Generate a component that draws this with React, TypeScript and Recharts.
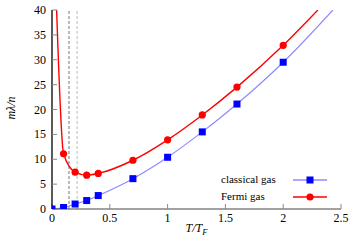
import { ComposedChart, Line, Scatter, XAxis, YAxis, ReferenceLine, Label } from "recharts";

// T/T_F positions of the sampled points
const tPoints = [0, 0.1, 0.2, 0.3, 0.4, 0.7, 1.0, 1.3, 1.6, 2.0];
const classicalValues = [0, 0.3, 1.0, 1.7, 2.7, 6.1, 10.4, 15.5, 21.1, 29.5];

const fermiT = [0.1, 0.2, 0.3, 0.4, 0.7, 1.0, 1.3, 1.6, 2.0];
const fermiValues = [11.1, 7.4, 6.8, 7.15, 9.8, 13.9, 18.9, 24.5, 32.9];

// where the curves leave the frame at the top
const classicalCurveT = [...tPoints, 2.43];
const classicalCurveValues = [...classicalValues, 40];
const fermiCurveT = [0.04, ...fermiT, 2.3];
const fermiCurveValues = [40, ...fermiValues, 40];

const xTicks = [0, 0.5, 1, 1.5, 2, 2.5];
const yTicks = [0, 5, 10, 15, 20, 25, 30, 35, 40];
const markerLines = [0.147, 0.217];

const legendItems = [
  { label: "classical gas", color: "#0000ff", line: "#8c8cff", shape: "square" },
  { label: "Fermi gas", color: "#ff0000", line: "#ff0000", shape: "circle" },
];

const toData = (xs: number[], ys: number[]) => xs.map((t, i) => ({ t, v: ys[i] }));

const classicalPoints = toData(tPoints, classicalValues);
const fermiPoints = toData(fermiT, fermiValues);
const classicalCurve = toData(classicalCurveT, classicalCurveValues);
const fermiCurve = toData(fermiCurveT, fermiCurveValues);

const FONT = "Liberation Serif";

const Square = (props: any) => {
  const { cx, cy } = props;
  return <rect x={cx - 3.5} y={cy - 3.5} width={7} height={7} fill="#0000ff" />;
};

const Dot = (props: any) => {
  const { cx, cy } = props;
  return <circle cx={cx} cy={cy} r={3.6} fill="#ff0000" />;
};

const XTick = (props: any) => {
  const { x, y, payload } = props;
  return (
    <text x={x} y={y + 9} fontFamily={FONT} fontSize={12} textAnchor="middle" fill="#000" style={{ fontFamily: FONT }}>
      {String(payload.value)}
    </text>
  );
};

const YTick = (props: any) => {
  const { x, y, payload } = props;
  return (
    <text x={x} y={y + 4} fontFamily={FONT} fontSize={12} textAnchor="end" fill="#000" style={{ fontFamily: FONT }}>
      {String(payload.value)}
    </text>
  );
};

const XLabel = (props: any) => {
  const vb = props.viewBox;
  return (
    <text x={vb.x + vb.width / 2} y={232} fontFamily={FONT} fontSize={12} fontStyle="italic" textAnchor="middle" fill="#000">
      T/T<tspan fontSize={8.5} dy={3}>F</tspan>
    </text>
  );
};

const YLabel = () => {
  return (
    <text x={15} y={108} transform="rotate(-90 15 108)" fontFamily={FONT} fontSize={12} fontStyle="italic" textAnchor="middle" fill="#000">
      mλ/n
    </text>
  );
};

function KeyBox() {
  return (
    <div style={{ position: "absolute", left: 221, top: 171, fontFamily: FONT, fontSize: 11, lineHeight: "17px" }}>
      {legendItems.map((item) => (
        <div key={item.label} style={{ display: "flex", alignItems: "center", height: 17 }}>
          <span style={{ width: 72 }}>{item.label}</span>
          <svg width={36} height={10}>
            <line x1={0} y1={5} x2={34} y2={5} stroke={item.line} strokeWidth={1.5} />
            {item.shape === "square" ? (
              <rect x={13.5} y={1.5} width={7} height={7} fill={item.color} />
            ) : (
              <circle cx={17} cy={5} r={3.6} fill={item.color} />
            )}
          </svg>
        </div>
      ))}
    </div>
  );
}

export default function App() {
  return (
    <div style={{ position: "absolute", left: 0, top: 0, width: 354, height: 250, fontFamily: FONT }}>
      <ComposedChart width={354} height={250} margin={{ top: 10, right: 13, left: 0, bottom: 0 }} style={{ fontFamily: FONT }}>
        <XAxis
          dataKey="t"
          type="number"
          domain={[0, 2.5]}
          ticks={xTicks}
          allowDataOverflow
          height={41}
          tickSize={-5}
          tickMargin={9}
          tick={<XTick />}
          axisLine={{ stroke: "#444" }}
          tickLine={{ stroke: "#888" }}
        >
          <Label content={<XLabel />} />
        </XAxis>
        <XAxis
          xAxisId="top"
          orientation="top"
          type="number"
          domain={[0, 2.5]}
          ticks={xTicks}
          allowDataOverflow
          height={0}
          tickSize={-5}
          tickFormatter={() => ""}
          axisLine={{ stroke: "#666" }}
          tickLine={{ stroke: "#888" }}
        />
        <YAxis
          type="number"
          domain={[0, 40]}
          ticks={yTicks}
          allowDataOverflow
          width={52}
          tickSize={-5}
          tickMargin={11}
          tick={<YTick />}
          axisLine={{ stroke: "#000", strokeWidth: 1.3 }}
          tickLine={{ stroke: "#888" }}
        >
          <Label content={<YLabel />} />
        </YAxis>
        <YAxis
          yAxisId="right"
          orientation="right"
          type="number"
          domain={[0, 40]}
          ticks={yTicks}
          allowDataOverflow
          width={0}
          tickSize={-5}
          tickFormatter={() => ""}
          axisLine={{ stroke: "#666" }}
          tickLine={{ stroke: "#888" }}
        />
        <ReferenceLine x={markerLines[0]} stroke="#777" strokeDasharray="3 2" />
        <ReferenceLine x={markerLines[1]} stroke="#bbb" strokeDasharray="3 2" />
        <Line
          data={classicalCurve}
          dataKey="v"
          type="monotone"
          stroke="#8c8cff"
          strokeWidth={1.2}
          dot={false}
          activeDot={false}
          isAnimationActive={false}
        />
        <Line
          data={fermiCurve}
          dataKey="v"
          type="monotone"
          stroke="#ff0000"
          strokeWidth={1.4}
          dot={false}
          activeDot={false}
          isAnimationActive={false}
        />
        <Scatter data={classicalPoints} dataKey="v" shape={<Square />} isAnimationActive={false} />
        <Scatter data={fermiPoints} dataKey="v" shape={<Dot />} isAnimationActive={false} />
      </ComposedChart>
      <KeyBox />
    </div>
  );
}
